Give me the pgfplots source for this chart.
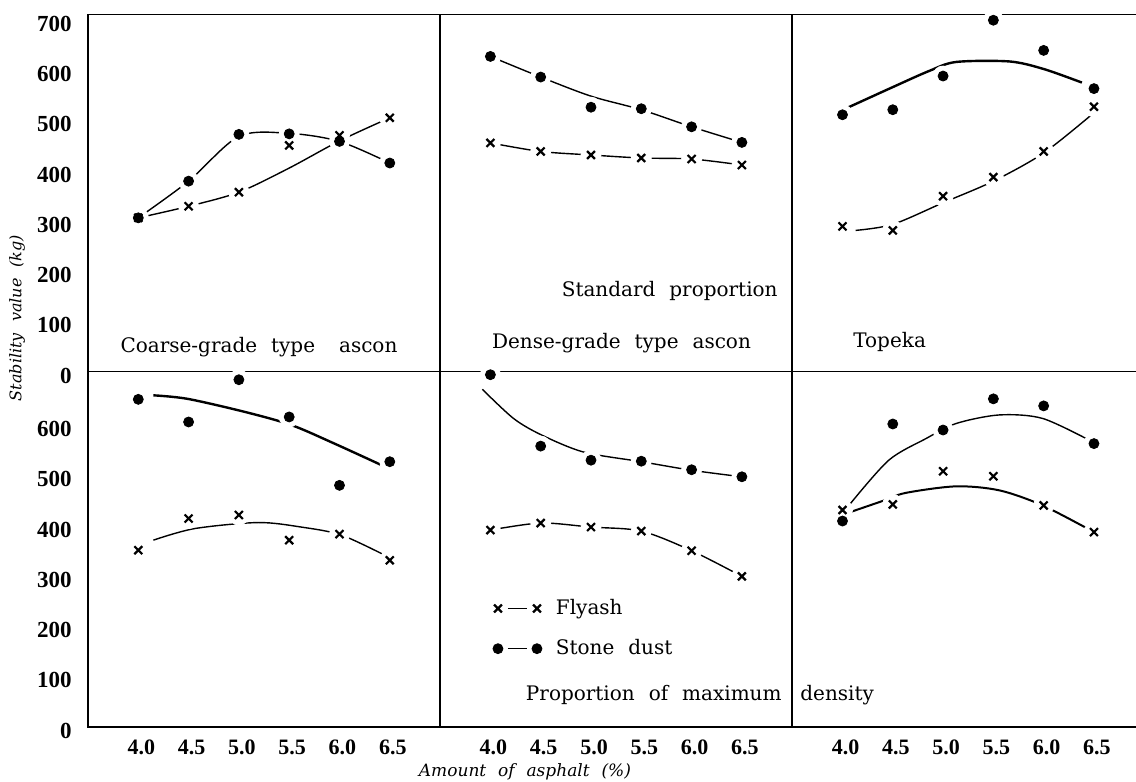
\documentclass[border=0pt]{standalone}
\usepackage{fontspec}
\setmainfont[WordSpace=2.2]{DejaVu Serif}
\newfontfamily\tickfont{Liberation Serif}
\usepackage{pgfplots}
\pgfplotsset{compat=1.18}
\pgfplotsset{
  panel/.style={scale only axis, axis on top, axis line style={line width=0.8pt,-},
    major tick length=0pt, xtick={4,4.5,5,5.5,6,6.5}, xticklabels={}, ytick=\empty,
    xmin=3.5, xmax=7.0, ymin=0, width=176.05pt, anchor=south west},
  toprow/.style={ymax=710, height=178.5pt},
  botrow/.style={ymax=706, height=177.5pt, xticklabels={4.0,4.5,5.0,5.5,6.0,6.5},
    xticklabel style={font=\tickfont\bfseries\fontsize{11}{13}\selectfont, inner sep=0pt, anchor=north, yshift=-6.4pt, xshift=1.5pt}},
  leftcol/.style={yticklabel style={font=\tickfont\bfseries\fontsize{11.5}{13}\selectfont, inner sep=0pt, anchor=east, xshift=-8pt, yshift=-2pt}},
  rightcol/.style={xmax=6.92, width=172pt, axis y line*=left, axis x line*=box, y axis line style={-}, x axis line style={-}},
  sd/.style={only marks, mark=*, mark size=2.5pt, black},
  fa/.style={only marks, mark=x, mark size=2.8pt, black, mark options={line width=1.1pt}},
  halo/.style={only marks, mark=*, mark size=5pt, white, mark options={draw=white, fill=white}},
  crv/.style={no marks, smooth, black, line width=0.7pt},
  pairlegend/.style={legend image code/.code={%
    \draw[black, line width=0.7pt] (5pt,0pt) -- (14.5pt,0pt);
    \draw[##1, only marks] plot coordinates {(0pt,0pt) (19.5pt,0pt)};}},
}
\begin{document}
\begin{tikzpicture}
\useasboundingbox (0,0) rectangle (568pt,391pt);
% ---------- top left: Coarse-grade ----------
\begin{axis}[panel, toprow, leftcol, at={(44pt,205.15pt)},
  ytick={0,100,200,300,400,500,600,700}, yticklabels={0,100,200,300,400,500,600,700}]
\addplot[crv] coordinates {(4.0,306)(4.5,379)(5.0,468)(5.5,474)(6.0,458)(6.5,415)};
\addplot[crv] coordinates {(4.0,306)(4.5,329)(5.0,357)(5.5,405)(6.0,459)(6.5,505)};
\addplot[halo] coordinates {(4.0,306)(4.5,379)(5.0,472)(5.5,473)(6.0,458)(6.5,415)};
\addplot[halo] coordinates {(4.0,306)(4.5,329)(5.0,357)(5.5,450)(6.0,470)(6.5,505)};
\addplot[sd] coordinates {(4.0,306)(4.5,379)(5.0,472)(5.5,473)(6.0,458)(6.5,415)};
\addplot[fa] coordinates {(4.0,306)(4.5,329)(5.0,357)(5.5,450)(6.0,470)(6.5,505)};
\end{axis}
% ---------- top middle: Dense-grade ----------
\begin{axis}[panel, toprow, at={(220.05pt,205.15pt)}]
\addplot[crv] coordinates {(4.0,627)(4.5,586)(5.0,548)(5.5,521)(6.0,487)(6.5,456)};
\addplot[crv] coordinates {(4.0,455)(4.5,438)(5.0,431)(5.5,425)(6.0,423)(6.5,411)};
\addplot[halo] coordinates {(4.0,627)(4.5,586)(5.0,526)(5.5,523)(6.0,487)(6.5,456)};
\addplot[halo] coordinates {(4.0,455)(4.5,438)(5.0,431)(5.5,425)(6.0,423)(6.5,411)};
\addplot[sd] coordinates {(4.0,627)(4.5,586)(5.0,526)(5.5,523)(6.0,487)(6.5,456)};
\addplot[fa] coordinates {(4.0,455)(4.5,438)(5.0,431)(5.5,425)(6.0,423)(6.5,411)};
\end{axis}
% ---------- top right: Topeka ----------
\begin{axis}[panel, toprow, rightcol, at={(396.1pt,205.15pt)}]
\addplot[crv, line width=1.2pt] coordinates {(4.05,525)(4.5,566)(4.86,598)(5.13,616)(5.66,617)(6.0,602)(6.38,575)};
\addplot[crv] coordinates {(4.13,281)(4.5,293)(5.0,336)(5.5,379)(6.0,435)(6.5,515)};
\addplot[halo] coordinates {(4.0,511)(4.5,521)(5.0,588)(5.5,699)(6.0,639)(6.5,563)};
\addplot[halo] coordinates {(4.0,289)(4.5,281)(5.0,349)(5.5,387)(6.0,438)(6.5,527)};
\addplot[sd] coordinates {(4.0,511)(4.5,521)(5.0,588)(5.5,699)(6.0,639)(6.5,563)};
\addplot[fa] coordinates {(4.0,289)(4.5,281)(5.0,349)(5.5,387)(6.0,438)(6.5,527)};
\end{axis}
% ---------- bottom left ----------
\begin{axis}[panel, botrow, leftcol, at={(44pt,27.65pt)},
  ytick={0,100,200,300,400,500,600}, yticklabels={0,100,200,300,400,500,600}]
\addplot[crv, line width=1.2pt] coordinates {(4.15,659)(4.49,652)(5.06,626)(5.52,600)(5.95,563)(6.42,520)};
\addplot[crv] coordinates {(4.15,371)(4.56,394)(5.19,406)(5.62,397)(6.02,381)(6.48,338)};
\addplot[halo] coordinates {(4.0,651)(4.5,606)(5.0,690)(5.5,616)(6.0,480)(6.5,527)};
\addplot[halo] coordinates {(4.0,351)(4.5,414)(5.0,421)(5.5,371)(6.0,383)(6.5,331)};
\addplot[sd] coordinates {(4.0,651)(4.5,606)(5.0,690)(5.5,616)(6.0,480)(6.5,527)};
\addplot[fa] coordinates {(4.0,351)(4.5,414)(5.0,421)(5.5,371)(6.0,383)(6.5,331)};
\end{axis}
% ---------- bottom middle ----------
\begin{axis}[panel, botrow, at={(220.05pt,27.65pt)},
  legend style={draw=none, fill=none, at={(0.149,0.371)}, anchor=north west,
    font=\fontsize{10}{12}\selectfont, row sep=7pt, inner sep=0pt,
    /tikz/every odd column/.append style={column sep=5pt}},
  legend cell align=left]
\addlegendimage{black, mark=x, mark size=2.8pt, mark options={line width=1.1pt}, pairlegend}
\addlegendentry{Flyash}
\addlegendimage{black, mark=*, mark size=2.5pt, pairlegend}
\addlegendentry{Stone dust}
\addplot[crv] coordinates {(3.92,671)(4.23,613)(4.51,580)(4.93,546)(5.5,527)(6.0,510)(6.5,497)};
\addplot[crv] coordinates {(4.0,391)(4.5,405)(5.0,397)(5.5,389)(6.0,350)(6.5,299)};
\addplot[halo] coordinates {(4.0,700)(4.5,558)(5.0,530)(5.5,528)(6.0,511)(6.5,497)};
\addplot[halo] coordinates {(4.0,391)(4.5,405)(5.0,397)(5.5,389)(6.0,350)(6.5,299)};
\addplot[sd] coordinates {(4.0,700)(4.5,558)(5.0,530)(5.5,528)(6.0,511)(6.5,497)};
\addplot[fa] coordinates {(4.0,391)(4.5,405)(5.0,397)(5.5,389)(6.0,350)(6.5,299)};
\end{axis}
% ---------- bottom right ----------
\begin{axis}[panel, botrow, rightcol, at={(396.1pt,27.65pt)}]
\addplot[crv] coordinates {(4.08,444)(4.46,530)(4.83,573)(5.13,603)(5.56,620)(5.99,613)(6.48,567)};
\addplot[crv, line width=1.0pt] coordinates {(4.08,427)(4.40,449)(4.63,465)(5.13,478)(5.56,470)(5.99,440)(6.5,387)};
\addplot[halo] coordinates {(4.0,409)(4.5,602)(5.0,590)(5.5,652)(6.0,638)(6.5,563)};
\addplot[halo] coordinates {(4.0,431)(4.5,442)(5.0,508)(5.5,498)(6.0,440)(6.5,387)};
\addplot[sd] coordinates {(4.0,409)(4.5,602)(5.0,590)(5.5,652)(6.0,638)(6.5,563)};
\addplot[fa] coordinates {(4.0,431)(4.5,442)(5.0,508)(5.5,498)(6.0,440)(6.5,387)};
\end{axis}
% ---------- texts ----------
\begin{scope}[every node/.style={inner sep=0pt, font=\fontsize{10}{12}\selectfont}]
\node[anchor=base] at (129.5pt,214.5pt) {Coarse-grade type\hspace{5pt} ascon};
\node[anchor=base east] at (389pt,242.5pt) {Standard proportion};
\node[anchor=base] at (310.75pt,216.8pt) {Dense-grade type ascon};
\node[anchor=base west] at (426.5pt,217pt) {Topeka};
\node[anchor=base east] at (391pt,40.65pt) {Proportion of maximum};
\node[anchor=base west] at (400pt,40.65pt) {density};
\end{scope}
\node[rotate=90, inner sep=0pt, font=\itshape\fontsize{8}{10}\selectfont] at (8.5pt,232pt) {Stability value (kg)};
\node[anchor=base, inner sep=0pt, font=\itshape\fontsize{8.5}{10}\selectfont] at (262.5pt,2.5pt) {Amount of asphalt (\%)};
\end{tikzpicture}
\end{document}
